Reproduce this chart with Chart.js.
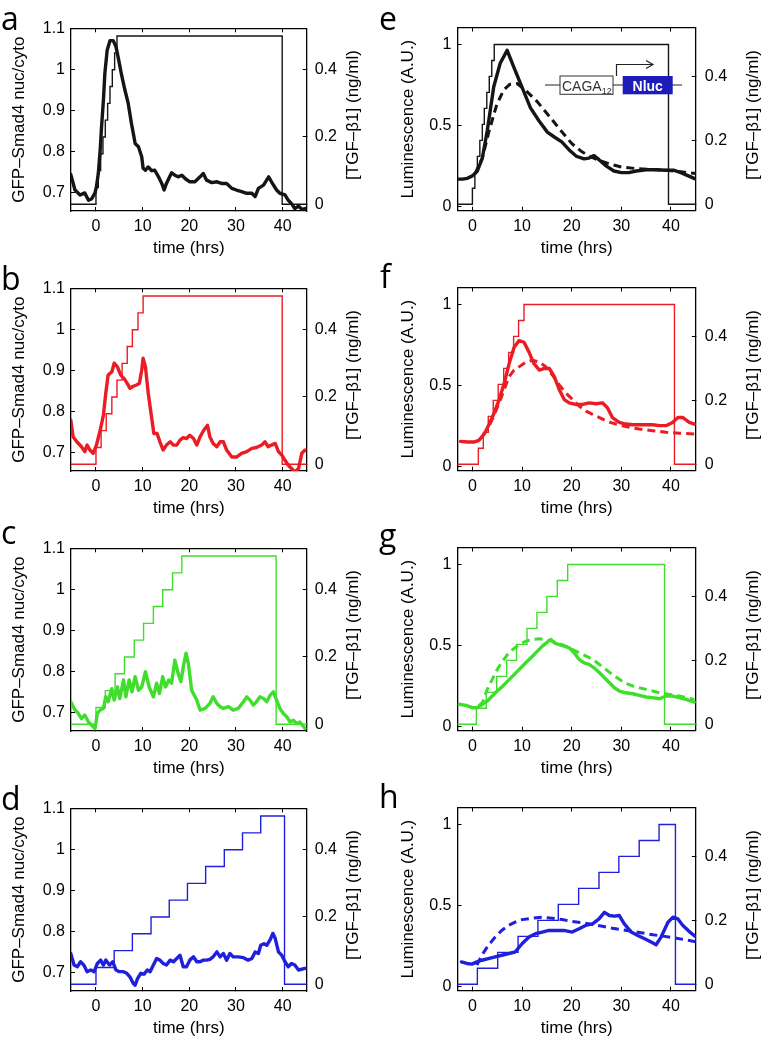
<!DOCTYPE html>
<html><head><meta charset="utf-8">
<script src="https://cdn.jsdelivr.net/npm/chart.js@4.4.1/dist/chart.umd.min.js"></script>
<style>
body{margin:0;background:#fff;width:765px;height:1050px;position:relative;overflow:hidden;font-family:'Liberation Sans',Arial,sans-serif;}
canvas{position:absolute;}
.rt{position:absolute;font-size:17px;line-height:17px;white-space:nowrap;color:#000;transform:translate(-50%,-50%) rotate(-90deg);}
svg.ov{position:absolute;left:0;top:0;pointer-events:none;}
</style></head><body>
<canvas id="ca" width="380" height="260" style="left:0;top:0"></canvas>
<canvas id="cb" width="380" height="260" style="left:0;top:260px"></canvas>
<canvas id="cc" width="380" height="260" style="left:0;top:520px"></canvas>
<canvas id="cd" width="380" height="260" style="left:0;top:780px"></canvas>
<canvas id="ce" width="385" height="260" style="left:380px;top:0"></canvas>
<canvas id="cf" width="385" height="260" style="left:380px;top:260px"></canvas>
<canvas id="cg" width="385" height="260" style="left:380px;top:520px"></canvas>
<canvas id="ch" width="385" height="260" style="left:380px;top:780px"></canvas>

<div class="rt" style="left:352px;top:115px">[TGF–β1] (ng/ml)</div>
<div class="rt" style="left:352px;top:375px">[TGF–β1] (ng/ml)</div>
<div class="rt" style="left:352px;top:635px">[TGF–β1] (ng/ml)</div>
<div class="rt" style="left:352px;top:895px">[TGF–β1] (ng/ml)</div>
<div class="rt" style="left:752px;top:115px">[TGF–β1] (ng/ml)</div>
<div class="rt" style="left:752px;top:375px">[TGF–β1] (ng/ml)</div>
<div class="rt" style="left:752px;top:635px">[TGF–β1] (ng/ml)</div>
<div class="rt" style="left:752px;top:895px">[TGF–β1] (ng/ml)</div>

<svg class="ov" width="765" height="1050" xmlns="http://www.w3.org/2000/svg">
  <g font-family="'Open Sans','Noto Sans',sans-serif" font-size="32" fill="#000">
    <text x="1" y="30">a</text>
    <text x="1" y="290">b</text>
    <text x="1" y="544">c</text>
    <text x="1" y="810">d</text>
    <text x="379" y="30">e</text>
    <text x="380" y="288">f</text>
    <text x="379" y="547">g</text>
    <text x="379" y="808">h</text>
  </g>
  <line x1="545" y1="85" x2="682" y2="85" stroke="#222" stroke-width="1"/>
  <rect x="560" y="76" width="53" height="18.3" fill="#fff" stroke="#333" stroke-width="1"/>
  <text x="562" y="91" font-family="'Liberation Sans',Arial,sans-serif" font-size="14" fill="#333">CAGA<tspan font-size="9" dy="3">12</tspan></text>
  <rect x="622.7" y="76" width="50" height="18.3" fill="#1c1cb8"/>
  <text x="647.7" y="90.5" text-anchor="middle" font-family="'Liberation Sans',Arial,sans-serif" font-size="14" font-weight="bold" fill="#fff">Nluc</text>
  <polyline points="616.5,76 616.5,64.5 652,64.5" fill="none" stroke="#222" stroke-width="1.2"/>
  <polyline points="646,60.5 653,64.5 646,68.5" fill="none" stroke="#222" stroke-width="1.2"/>
</svg>

<script>
// ---------- tick labels ----------
const xTickVals = [0, 10, 20, 30, 40];
const smadTickVals = [0.7, 0.8, 0.9, 1, 1.1];
const lumTickVals = [0, 0.5, 1];
const tgfTickVals = [0, 0.2, 0.4];

// ---------- TGF-beta1 input steps (time, level) ----------
const aStepT = [-5.4, 0, 0.5, 1.0, 1.5, 2.0, 2.5, 3.0, 3.5, 4.0, 4.5, 39.9, 46];
const aStepV = [0, 0.05, 0.1, 0.15, 0.2, 0.25, 0.3, 0.35, 0.4, 0.45, 0.5, 0, 0];
const bStepT = [-5.4, 0, 1.1, 2.2, 3.4, 4.5, 5.6, 6.7, 7.8, 9.0, 10.1, 39.9, 46];
const bStepV = [0, 0.05, 0.1, 0.15, 0.2, 0.25, 0.3, 0.35, 0.4, 0.45, 0.5, 0, 0];
const cStepT = [-5.4, 0, 2.0, 4.1, 6.1, 8.2, 10.2, 12.3, 14.3, 16.4, 18.4, 38.6, 46];
const cStepV = [0, 0.05, 0.1, 0.15, 0.2, 0.25, 0.3, 0.35, 0.4, 0.45, 0.5, 0, 0];
const dStepT = [-5.4, 0, 3.9, 7.8, 11.8, 15.7, 19.6, 23.5, 27.5, 31.4, 35.3, 40.4, 46];
const dStepV = [0, 0.05, 0.1, 0.15, 0.2, 0.25, 0.3, 0.35, 0.4, 0.45, 0.5, 0, 0];
const eStepT = [-3.5, 0, 0.5, 1.0, 1.5, 2.0, 2.4, 2.9, 3.4, 3.9, 4.4, 39.5, 46];
const eStepV = [0, 0.05, 0.1, 0.15, 0.2, 0.25, 0.3, 0.35, 0.4, 0.45, 0.5, 0, 0];
const fStepT = [-3.5, 1.2, 2.2, 3.2, 4.2, 5.2, 6.3, 7.3, 8.3, 9.3, 10.4, 40.7, 46];
const fStepV = [0, 0.05, 0.1, 0.15, 0.2, 0.25, 0.3, 0.35, 0.4, 0.45, 0.5, 0, 0];
const gStepT = [-3.5, 0.8, 2.8, 4.9, 6.9, 8.9, 11.0, 13.0, 15.0, 17.1, 19.2, 38.7, 46];
const gStepV = [0, 0.05, 0.1, 0.15, 0.2, 0.25, 0.3, 0.35, 0.4, 0.45, 0.5, 0, 0];
const hStepT = [-3.5, 1.0, 5.1, 9.2, 13.2, 17.3, 21.4, 25.5, 29.5, 33.6, 37.6, 40.9, 46];
const hStepV = [0, 0.05, 0.1, 0.15, 0.2, 0.25, 0.3, 0.35, 0.4, 0.45, 0.5, 0, 0];

// ---------- GFP-Smad4 nuc/cyto traces [time, value] ----------
const aSmad = [[-5.4,0.745],[-4.5,0.707],[-3.4,0.695],[-2.4,0.70],[-1.6,0.682],[-0.9,0.686],[-0.2,0.70],[0.1,0.715],[0.5,0.747],[0.9,0.804],[1.2,0.861],[1.6,0.926],[1.9,0.99],[2.4,1.047],[3.0,1.07],[3.7,1.07],[4.3,1.055],[4.8,1.027],[5.5,0.986],[6.2,0.95],[6.9,0.918],[7.6,0.869],[8.4,0.82],[9.1,0.812],[9.8,0.788],[10.1,0.76],[10.6,0.755],[11.2,0.763],[11.9,0.754],[12.6,0.755],[13.4,0.739],[14.1,0.723],[14.6,0.707],[15.1,0.723],[16.2,0.749],[16.9,0.743],[17.6,0.739],[18.4,0.743],[19.1,0.735],[20.1,0.727],[21.2,0.727],[22.3,0.739],[23.0,0.747],[23.7,0.731],[24.8,0.725],[25.9,0.727],[26.9,0.723],[28.0,0.723],[29.1,0.711],[30.1,0.707],[31.2,0.703],[32.3,0.699],[33.4,0.699],[34.1,0.691],[34.8,0.711],[35.9,0.719],[37.0,0.739],[37.6,0.727],[38.7,0.707],[39.4,0.699],[40.5,0.695],[41.2,0.682],[41.9,0.674],[42.6,0.662],[43.4,0.668],[44.1,0.66],[44.8,0.662]];
const bSmad = [[-5.4,0.78],[-4.9,0.739],[-4.1,0.727],[-3.1,0.715],[-2.4,0.703],[-1.9,0.719],[-1.3,0.707],[-0.6,0.699],[0.1,0.719],[0.9,0.755],[1.6,0.792],[2.1,0.845],[2.6,0.889],[3.4,0.897],[3.9,0.918],[4.6,0.909],[5.3,0.889],[6.0,0.881],[6.7,0.869],[7.3,0.857],[8.0,0.862],[8.7,0.865],[9.3,0.869],[9.8,0.901],[10.1,0.93],[10.6,0.909],[11.2,0.845],[11.9,0.788],[12.4,0.747],[13.1,0.747],[13.7,0.727],[14.4,0.707],[15.1,0.719],[15.9,0.727],[16.6,0.719],[17.3,0.719],[18.0,0.731],[18.7,0.737],[19.4,0.735],[20.1,0.743],[20.9,0.735],[21.6,0.719],[22.3,0.739],[23.1,0.755],[23.9,0.767],[24.4,0.739],[25.1,0.723],[25.9,0.715],[26.6,0.727],[27.3,0.727],[28.0,0.707],[29.1,0.69],[30.1,0.69],[31.2,0.699],[32.3,0.703],[33.4,0.711],[34.4,0.713],[35.5,0.719],[36.2,0.727],[36.9,0.715],[37.6,0.719],[38.4,0.723],[39.1,0.703],[39.8,0.695],[40.5,0.682],[41.2,0.67],[41.9,0.662],[42.6,0.654],[43.4,0.662],[44.1,0.699],[44.8,0.707]];
const cSmad = [[-5.4,0.727],[-4.5,0.707],[-3.8,0.699],[-3.1,0.686],[-2.4,0.695],[-1.6,0.678],[-0.9,0.67],[-0.2,0.662],[0.3,0.699],[0.9,0.707],[1.6,0.711],[2.1,0.739],[2.6,0.727],[3.4,0.759],[3.9,0.731],[4.6,0.763],[5.1,0.735],[5.9,0.78],[6.4,0.739],[7.1,0.78],[7.7,0.751],[8.4,0.788],[9.1,0.755],[9.8,0.763],[10.6,0.80],[11.4,0.763],[12.3,0.739],[13.0,0.772],[13.6,0.747],[14.3,0.788],[14.9,0.763],[15.6,0.78],[16.2,0.772],[16.9,0.828],[17.6,0.796],[18.2,0.776],[18.7,0.812],[19.3,0.845],[19.8,0.82],[20.5,0.755],[21.6,0.731],[22.3,0.707],[23.4,0.711],[24.4,0.723],[25.1,0.739],[25.9,0.723],[26.6,0.715],[27.3,0.711],[28.4,0.715],[29.4,0.707],[30.5,0.711],[31.6,0.727],[32.3,0.739],[33.0,0.731],[33.7,0.719],[34.4,0.727],[35.1,0.739],[35.9,0.735],[36.6,0.727],[37.3,0.743],[38.0,0.751],[38.7,0.731],[39.4,0.711],[40.1,0.699],[40.9,0.69],[41.6,0.678],[42.3,0.682],[43.0,0.674],[43.7,0.678],[44.8,0.662]];
const dSmad = [[-5.4,0.747],[-4.7,0.719],[-4.0,0.715],[-3.3,0.727],[-2.6,0.719],[-1.9,0.703],[-1.1,0.707],[-0.4,0.703],[0.3,0.723],[1.0,0.731],[1.6,0.719],[2.1,0.731],[2.9,0.719],[3.6,0.727],[4.3,0.707],[5.0,0.703],[5.9,0.703],[6.6,0.699],[7.3,0.69],[8.0,0.674],[8.4,0.67],[8.9,0.686],[9.6,0.699],[10.3,0.697],[11.0,0.707],[11.6,0.703],[12.3,0.719],[13.0,0.735],[13.7,0.731],[14.4,0.723],[15.1,0.719],[15.9,0.731],[16.6,0.727],[17.3,0.735],[18.0,0.743],[18.7,0.715],[19.4,0.715],[20.1,0.731],[20.9,0.739],[21.6,0.727],[22.3,0.727],[23.0,0.731],[23.7,0.731],[24.4,0.733],[25.1,0.739],[25.9,0.751],[26.6,0.739],[27.3,0.747],[28.0,0.731],[28.7,0.747],[29.4,0.739],[30.5,0.739],[31.6,0.737],[32.6,0.731],[33.4,0.735],[34.1,0.751],[34.8,0.747],[35.3,0.767],[36.0,0.771],[36.6,0.767],[37.3,0.78],[37.9,0.796],[38.4,0.784],[39.1,0.751],[39.8,0.743],[40.5,0.727],[41.2,0.715],[41.9,0.723],[42.6,0.719],[43.4,0.707],[44.8,0.711]];

// ---------- Luminescence: measured [time, value] ----------
const eLum = [[-3,0.17],[-2,0.17],[-1,0.175],[0,0.19],[1,0.22],[2,0.3],[3,0.47],[4.3,0.74],[5.6,0.885],[7.0,0.965],[8.3,0.864],[9.7,0.76],[11.7,0.61],[13.4,0.53],[15.1,0.46],[16.5,0.43],[18,0.40],[19.5,0.35],[21,0.31],[22.5,0.295],[23.5,0.30],[24.5,0.315],[25.5,0.29],[27,0.25],[28.5,0.22],[30,0.21],[31.5,0.21],[33,0.22],[35,0.228],[37,0.228],[39,0.225],[40.5,0.225],[42,0.21],[43.5,0.19],[45,0.17]];
const fLum = [[-2.4,0.156],[-1.0,0.152],[0.3,0.152],[1.3,0.162],[2.4,0.202],[3.4,0.263],[4.4,0.333],[5.4,0.414],[6.4,0.515],[7.4,0.636],[8.4,0.737],[9.4,0.778],[10.4,0.768],[11.4,0.707],[12.4,0.636],[13.5,0.596],[14.5,0.606],[15.5,0.606],[16.5,0.556],[17.5,0.475],[18.5,0.414],[19.5,0.394],[20.8,0.384],[22.2,0.384],[23.5,0.394],[24.9,0.388],[26.2,0.394],[27.2,0.364],[28.2,0.303],[29.6,0.273],[30.9,0.263],[32.3,0.259],[33.6,0.259],[35.0,0.259],[36.3,0.259],[37.7,0.253],[39.0,0.253],[40.3,0.273],[41.4,0.303],[42.4,0.303],[43.7,0.273],[44.7,0.263]];
const gLum = [[-2.7,0.138],[-1.3,0.131],[0,0.117],[1.0,0.117],[2.0,0.138],[3.0,0.158],[4.0,0.189],[5.0,0.22],[6.1,0.25],[7.1,0.281],[8.1,0.312],[9.1,0.343],[10.1,0.374],[11.1,0.405],[12.1,0.435],[13.1,0.466],[14.1,0.497],[15.1,0.522],[15.8,0.538],[16.5,0.517],[17.5,0.507],[18.5,0.497],[19.5,0.487],[20.5,0.456],[21.5,0.415],[22.5,0.394],[23.5,0.384],[24.5,0.363],[25.6,0.333],[26.6,0.302],[27.6,0.271],[28.6,0.24],[29.6,0.22],[30.9,0.209],[32.3,0.203],[33.6,0.193],[35.0,0.183],[36.3,0.179],[37.7,0.172],[39.0,0.189],[40.3,0.189],[41.7,0.179],[43.0,0.168],[44.7,0.152]];
const hLum = [[-2.2,0.153],[-1.1,0.143],[-0.1,0.139],[0.9,0.153],[1.9,0.163],[3.2,0.173],[4.6,0.184],[5.9,0.194],[7.3,0.204],[8.6,0.214],[10.0,0.265],[11.4,0.306],[12.7,0.327],[14.1,0.337],[15.4,0.347],[16.8,0.347],[18.4,0.347],[20.1,0.337],[21.5,0.357],[22.8,0.378],[24.2,0.388],[25.5,0.418],[26.6,0.459],[27.6,0.439],[28.6,0.435],[29.6,0.439],[30.6,0.388],[32.0,0.337],[33.3,0.316],[34.7,0.296],[36.0,0.276],[37.0,0.259],[38.0,0.306],[39.4,0.398],[40.4,0.429],[41.4,0.418],[42.4,0.378],[43.8,0.337],[45.1,0.306]];

// ---------- Luminescence: model (dashed) [time, value] ----------
const eModel = [[0.5,0.2],[1,0.235],[2,0.3],[3.3,0.46],[4.9,0.63],[6.3,0.72],[7.5,0.755],[9,0.76],[11,0.71],[13,0.65],[15.7,0.55],[17.8,0.47],[20,0.39],[22,0.34],[24,0.305],[26,0.28],[28,0.26],[30,0.245],[33,0.235],[36,0.23],[39,0.225],[42,0.215],[45,0.205]];
const fModel = [[3.5,0.26],[4.4,0.32],[5.4,0.394],[6.4,0.475],[7.4,0.556],[8.4,0.596],[9.4,0.616],[10.8,0.646],[12.1,0.657],[13.5,0.646],[14.8,0.616],[16.1,0.566],[17.5,0.505],[18.8,0.455],[20.2,0.414],[21.5,0.374],[22.9,0.343],[24.2,0.323],[25.6,0.303],[26.9,0.283],[28.2,0.269],[30.9,0.248],[33.6,0.232],[36.3,0.222],[39.0,0.212],[41.7,0.206],[44.7,0.202]];
const gModel = [[1.3,0.13],[2.0,0.148],[3.0,0.23],[4.0,0.292],[5.0,0.353],[6.1,0.405],[7.1,0.446],[8.1,0.476],[9.4,0.507],[10.8,0.528],[12.1,0.538],[13.5,0.542],[14.8,0.538],[16.1,0.528],[17.5,0.513],[18.8,0.497],[20.2,0.476],[21.5,0.456],[22.9,0.435],[24.2,0.415],[25.6,0.384],[26.9,0.353],[28.2,0.322],[29.6,0.292],[30.9,0.267],[32.3,0.251],[33.6,0.24],[35.0,0.23],[36.3,0.22],[37.7,0.209],[39.7,0.199],[41.7,0.189],[44.7,0.168]];
const hModel = [[0.9,0.133],[1.9,0.194],[3.2,0.255],[4.6,0.306],[5.9,0.347],[7.3,0.378],[8.6,0.398],[10.0,0.414],[12.0,0.422],[14.1,0.429],[16.1,0.422],[18.1,0.414],[20.1,0.402],[22.2,0.394],[24.2,0.384],[26.2,0.373],[28.2,0.361],[30.3,0.351],[32.3,0.341],[34.3,0.331],[36.4,0.32],[38.4,0.312],[40.4,0.302],[42.4,0.292],[45.1,0.276]];

// ---------- colours ----------
const BLACK = '#151515', RED = '#ea1c24', GREEN = '#3fde2c', BLUE = '#2020dc';

const FAM = "'Liberation Sans', Arial, sans-serif";

function fixTicks(list) { return (s) => { s.ticks = list.map(v => ({ value: v })); }; }
function pts(arr) { return arr.map(p => ({ x: p[0], y: p[1] })); }
function stepPts(T, V) { return T.map((t, i) => ({ x: t, y: V[i] })); }

function build(id, p) {
  const ds = [];
  ds.push({ data: stepPts(p.stepT, p.stepV), xAxisID: 'x', yAxisID: 'yR', stepped: 'before',
    borderColor: p.color, borderWidth: 1.4, pointRadius: 0, order: 3, clip: 0, fill: false });
  if (p.model) ds.push({ data: pts(p.model), xAxisID: 'x', yAxisID: 'y', borderColor: p.color,
    borderWidth: 3, borderDash: [8, 5], pointRadius: 0, order: 2, clip: 0, fill: false });
  ds.push({ data: pts(p.line), xAxisID: 'x', yAxisID: 'y', borderColor: p.color, borderWidth: 3.4,
    borderJoinStyle: 'round', borderCapStyle: 'round', pointRadius: 0, order: 1, clip: 0, fill: false });
  const tickFont = { family: FAM, size: 16 };
  const titleFont = { family: FAM, size: 17 };
  const grid = { display: true, drawOnChartArea: false, drawTicks: true, tickLength: -4, color: '#000', lineWidth: 1 };
  const border = { display: true, color: '#000', width: 1.3 };
  new Chart(document.getElementById(id), {
    type: 'line',
    data: { datasets: ds },
    options: {
      responsive: false, animation: false, events: [],
      layout: { padding: { top: p.top, left: 0, right: 0, bottom: 0 } },
      plugins: { legend: { display: false }, tooltip: { enabled: false } },
      scales: {
        x: { type: 'linear', position: 'bottom', min: p.xMin, max: p.xMax,
          afterBuildTicks: fixTicks(xTickVals), afterFit: s => { s.height = p.xH; },
          ticks: { font: tickFont, color: '#000', padding: 10, maxRotation: 0, callback: v => String(v) },
          grid: grid, border: border,
          title: { display: true, text: 'time (hrs)', font: titleFont, color: '#000', padding: { top: 0, bottom: 1.5 } } },
        x2: { type: 'linear', position: 'top', min: p.xMin, max: p.xMax,
          afterBuildTicks: fixTicks(xTickVals), afterFit: s => { s.height = 0; },
          ticks: { display: false }, grid: grid, border: border },
        y: { type: 'linear', position: 'left', min: p.yMin, max: p.yMax,
          afterBuildTicks: fixTicks(p.yTicks), afterFit: s => { s.width = p.yW; },
          ticks: { font: tickFont, color: '#000', padding: 10, callback: v => String(v) },
          grid: grid, border: border,
          title: { display: true, text: p.yTitle, font: titleFont, color: '#000', padding: { top: p.yTitlePad, bottom: 0 } } },
        yR: { type: 'linear', position: 'right', min: p.rMin, max: p.rMax,
          afterBuildTicks: fixTicks(tgfTickVals), afterFit: s => { s.width = p.rW; },
          ticks: { font: tickFont, color: '#000', padding: p.rPad, callback: v => String(v) },
          grid: grid, border: border }
      }
    }
  });
}

const LEFT = { xMin: -5.35, xMax: 45.15, yMin: 0.656, yMax: 1.1, rMin: -0.02, rMax: 0.523,
  yTicks: smadTickVals, top: 28.3, xH: 49, yW: 71, rW: 73.3, rPad: 12, yTitlePad: 9,
  yTitle: 'GFP–Smad4 nuc/cyto' };
const RIGHT = { xMin: -3.0, xMax: 45.0, yMin: -0.025, yMax: 1.106, rMin: -0.02, rMax: 0.553,
  yTicks: lumTickVals, top: 27.5, xH: 49.3, yW: 77.5, rW: 69.2, rPad: 13, yTitlePad: 18,
  yTitle: 'Luminescence (A.U.)' };

build('ca', Object.assign({}, LEFT, { color: BLACK, line: aSmad, stepT: aStepT, stepV: aStepV }));
build('cb', Object.assign({}, LEFT, { color: RED, line: bSmad, stepT: bStepT, stepV: bStepV }));
build('cc', Object.assign({}, LEFT, { color: GREEN, line: cSmad, stepT: cStepT, stepV: cStepV }));
build('cd', Object.assign({}, LEFT, { color: BLUE, line: dSmad, stepT: dStepT, stepV: dStepV }));
build('ce', Object.assign({}, RIGHT, { color: BLACK, line: eLum, model: eModel, stepT: eStepT, stepV: eStepV }));
build('cf', Object.assign({}, RIGHT, { color: RED, line: fLum, model: fModel, stepT: fStepT, stepV: fStepV }));
build('cg', Object.assign({}, RIGHT, { color: GREEN, line: gLum, model: gModel, stepT: gStepT, stepV: gStepV }));
build('ch', Object.assign({}, RIGHT, { color: BLUE, line: hLum, model: hModel, stepT: hStepT, stepV: hStepV }));
</script>
</body></html>
